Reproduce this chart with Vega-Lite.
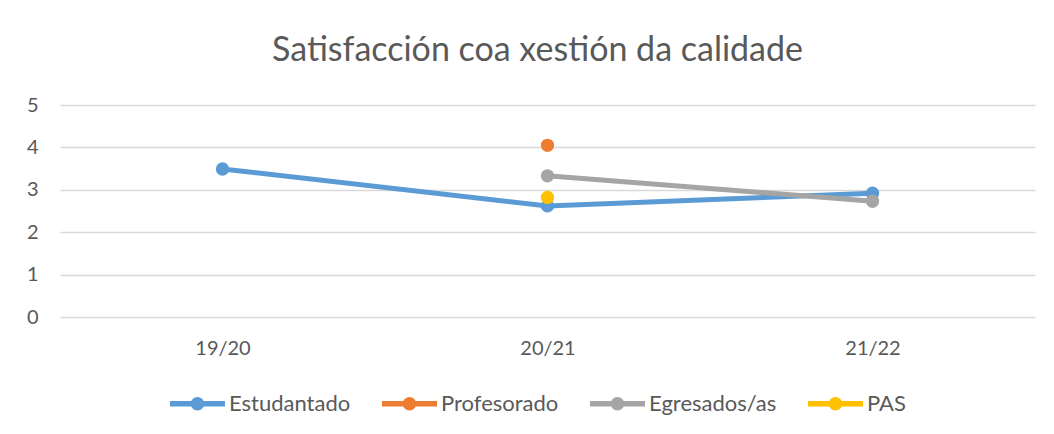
{
  "$schema": "https://vega.github.io/schema/vega-lite/v6.json",
  "width": 975,
  "height": 212,
  "autosize": "none",
  "padding": {"left": 60, "top": 105, "right": 19, "bottom": 117},
  "background": "white",
  "title": {
    "text": "Satisfacción coa xestión da calidade",
    "font": "Lato",
    "fontSize": 34,
    "fontWeight": "normal",
    "color": "#595959",
    "anchor": "middle",
    "dx": -10,
    "offset": 27
  },
  "config": {
    "font": "Lato",
    "view": {"stroke": null},
    "legend": {
      "symbolType": "M-1,-0.1H1V0.1H-1Z M-0.245,0A0.245,0.245 0 1,1 0.245,0A0.245,0.245 0 1,1 -0.245,0Z",
      "symbolSize": 3025,
      "symbolStrokeWidth": 0,
      "symbolOpacity": 1
    }
  },
  "data": {
    "values": [
      {"curso": "19/20", "grupo": "Estudantado", "valor": 3.49},
      {"curso": "20/21", "grupo": "Estudantado", "valor": 2.62},
      {"curso": "21/22", "grupo": "Estudantado", "valor": 2.92},
      {"curso": "20/21", "grupo": "Profesorado", "valor": 4.05},
      {"curso": "20/21", "grupo": "Egresados/as", "valor": 3.33},
      {"curso": "21/22", "grupo": "Egresados/as", "valor": 2.73},
      {"curso": "20/21", "grupo": "PAS", "valor": 2.82}
    ]
  },
  "encoding": {
    "x": {
      "field": "curso",
      "type": "ordinal",
      "scale": {"type": "point", "padding": 0.5},
      "axis": {
        "title": null,
        "labelAngle": 0,
        "domain": false,
        "ticks": false,
        "labelFontSize": 20,
        "labelColor": "#595959",
        "labelPadding": 21
      }
    },
    "y": {
      "field": "valor",
      "type": "quantitative",
      "scale": {"domain": [0, 5], "nice": false},
      "axis": {
        "title": null,
        "values": [0, 1, 2, 3, 4, 5],
        "domain": false,
        "ticks": false,
        "gridColor": "#D9D9D9",
        "gridWidth": 1.4,
        "labelFontSize": 20,
        "labelColor": "#595959",
        "labelPadding": 22
      }
    },
    "color": {
      "field": "grupo",
      "type": "nominal",
      "sort": ["Estudantado", "Profesorado", "Egresados/as", "PAS"],
      "scale": {
        "domain": ["Estudantado", "Profesorado", "Egresados/as", "PAS"],
        "range": ["#5B9BD5", "#ED7D31", "#A5A5A5", "#FFC000"]
      },
      "legend": {
        "title": null,
        "orient": "none",
        "legendX": 110,
        "legendY": 271,
        "direction": "horizontal",
        "labelFontSize": 22,
        "labelColor": "#595959",
        "labelOffset": 4,
        "columnPadding": 31
      }
    }
  },
  "layer": [
    {
      "mark": {"type": "line", "strokeWidth": 5, "strokeCap": "round"}
    },
    {
      "mark": {"type": "point", "filled": true, "opacity": 1, "size": 177}
    }
  ]
}
